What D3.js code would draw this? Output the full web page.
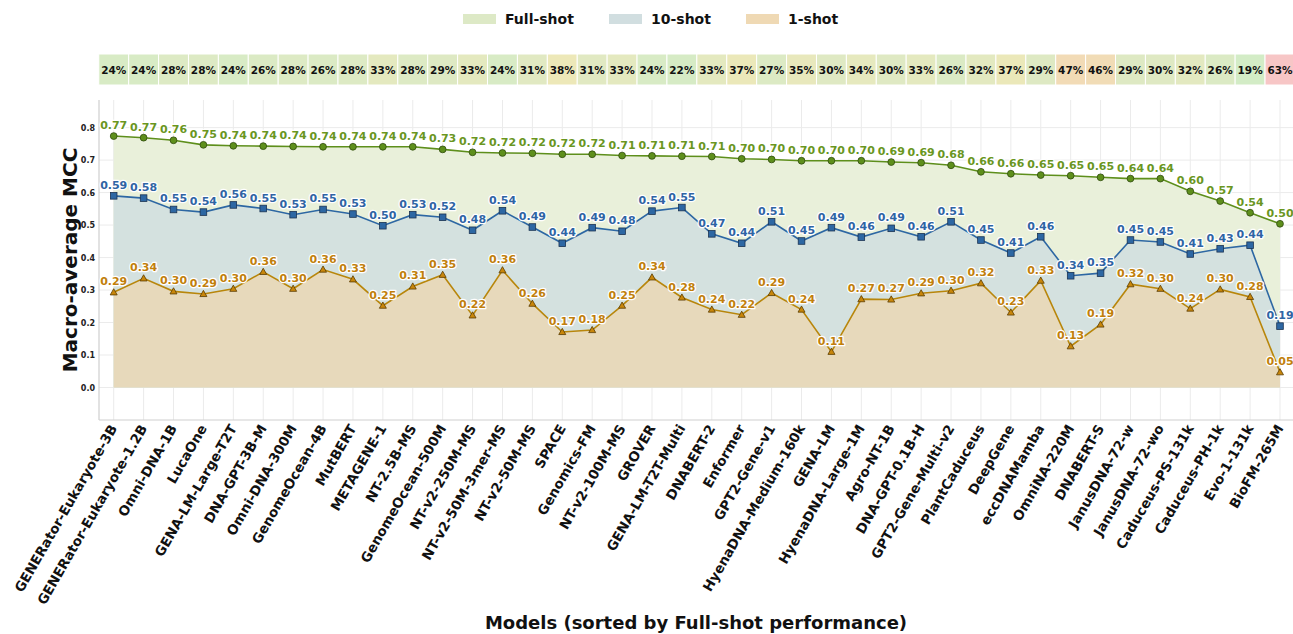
<!DOCTYPE html>
<html>
<head>
<meta charset="utf-8">
<script src="https://cdn.jsdelivr.net/npm/d3@7"></script>
<style>
  body { margin: 0; background: #fff; }
  svg { font-family: "DejaVu Sans", sans-serif; display: block; }
  .lbl { font-weight: bold; paint-order: stroke; stroke: #fff; stroke-width: 2.5px; stroke-linejoin: round; }
</style>
</head>
<body>
<svg width="1293" height="634"></svg>
<script>
// models, sorted by Full-shot performance
const models = ["GENERator-Eukaryote-3B", "GENERator-Eukaryote-1.2B", "Omni-DNA-1B", "LucaOne",
  "GENA-LM-Large-T2T", "DNA-GPT-3B-M", "Omni-DNA-300M", "GenomeOcean-4B", "MutBERT", "METAGENE-1",
  "NT-2.5B-MS", "GenomeOcean-500M", "NT-v2-250M-MS", "NT-v2-50M-3mer-MS", "NT-v2-50M-MS", "SPACE",
  "Genomics-FM", "NT-v2-100M-MS", "GROVER", "GENA-LM-T2T-Multi", "DNABERT-2", "Enformer",
  "GPT2-Gene-v1", "HyenaDNA-Medium-160k", "GENA-LM", "HyenaDNA-Large-1M", "Agro-NT-1B",
  "DNA-GPT-0.1B-H", "GPT2-Gene-Multi-v2", "PlantCaduceus", "DeepGene", "eccDNAMamba",
  "OmniNA-220M", "DNABERT-S", "JanusDNA-72-w", "JanusDNA-72-wo", "Caduceus-PS-131k",
  "Caduceus-PH-1k", "Evo-1-131k", "BioFM-265M"];

const fullShot = [0.774, 0.769, 0.761, 0.747, 0.744, 0.743, 0.742, 0.741, 0.741, 0.741,
  0.741, 0.733, 0.724, 0.722, 0.721, 0.718, 0.718, 0.714, 0.713, 0.712,
  0.711, 0.704, 0.702, 0.698, 0.698, 0.698, 0.694, 0.692, 0.684, 0.664,
  0.658, 0.654, 0.652, 0.647, 0.643, 0.643, 0.604, 0.574, 0.538, 0.504];

const tenShot = [0.590, 0.583, 0.548, 0.540, 0.562, 0.551, 0.532, 0.548, 0.534, 0.498,
  0.532, 0.524, 0.484, 0.544, 0.494, 0.444, 0.492, 0.481, 0.543, 0.554,
  0.473, 0.444, 0.510, 0.451, 0.492, 0.463, 0.490, 0.464, 0.510, 0.454,
  0.414, 0.464, 0.344, 0.352, 0.454, 0.448, 0.411, 0.427, 0.438, 0.189];

const oneShot = [0.293, 0.336, 0.296, 0.288, 0.304, 0.356, 0.304, 0.363, 0.333, 0.252,
  0.311, 0.347, 0.222, 0.361, 0.258, 0.171, 0.177, 0.252, 0.339, 0.277,
  0.240, 0.224, 0.291, 0.240, 0.110, 0.272, 0.271, 0.290, 0.298, 0.321,
  0.231, 0.329, 0.127, 0.194, 0.318, 0.304, 0.243, 0.302, 0.279, 0.047];

// percentages in the strip above the plot
const dropPct = [24, 24, 28, 28, 24, 26, 28, 26, 28, 33, 28, 29, 33, 24, 31, 38, 31, 33, 24, 22,
  33, 37, 27, 35, 30, 34, 30, 33, 26, 32, 37, 29, 47, 46, 29, 30, 32, 26, 19, 63];

const yTicks = [0.0, 0.1, 0.2, 0.3, 0.4, 0.5, 0.6, 0.7, 0.8];

const series = [
  {name: "Full-shot", values: fullShot, area: "#e9f0da", patch: "#dde9c6", line: "#5e8f1c", text: "#6a961f", mark: "circle", edge: "#2f4a0c"},
  {name: "10-shot", values: tenShot, area: "#d4e1df", patch: "#d1dee0", line: "#2d67a3", text: "#2f64a4", mark: "square", edge: "#1b3352"},
  {name: "1-shot", values: oneShot, area: "#e7d9bb", patch: "#efd9b4", line: "#b8860b", text: "#c17f0c", mark: "triangle", edge: "#5a3c00"}
];

const svg = d3.select("svg");
const plotLeft = 99, plotTop = 100, plotBottom = 420;

const x = d3.scalePoint().domain(models).range([113.7, 1280]);
const step = x.step();
const y = d3.scaleLinear().domain([-0.1, 0.885]).range([plotBottom, plotTop]);

// grid
const grid = svg.append("g");
grid.selectAll("line.v").data(models).join("line")
  .attr("x1", d => x(d)).attr("x2", d => x(d))
  .attr("y1", plotTop).attr("y2", plotBottom)
  .attr("stroke", "#ebebeb").attr("stroke-width", 1);
grid.selectAll("line.h").data(yTicks).join("line")
  .attr("x1", plotLeft).attr("x2", 1293)
  .attr("y1", d => y(d)).attr("y2", d => y(d))
  .attr("stroke", "#ebebeb").attr("stroke-width", 1);

// filled areas, full-shot first so the lower ones sit on top
series.forEach(s => {
  const area = d3.area()
    .x((d, i) => x(models[i]))
    .y0(y(0))
    .y1(d => y(d));
  svg.append("path")
    .datum(s.values)
    .attr("d", area)
    .attr("fill", s.area);
});

// spines
svg.append("line").attr("x1", plotLeft).attr("x2", plotLeft).attr("y1", plotTop).attr("y2", plotBottom)
  .attr("stroke", "#cfcfcf").attr("stroke-width", 1.2);
svg.append("line").attr("x1", plotLeft).attr("x2", 1293).attr("y1", plotBottom).attr("y2", plotBottom)
  .attr("stroke", "#cfcfcf").attr("stroke-width", 1.2);

// y ticks
svg.append("g").selectAll("text").data(yTicks).join("text")
  .attr("x", 95).attr("y", d => y(d) + 3)
  .attr("text-anchor", "end")
  .attr("font-size", 8).attr("font-weight", "bold").attr("fill", "#222")
  .text(d => d.toFixed(1));

// lines, markers and value labels
series.forEach(s => {
  const line = d3.line().x((d, i) => x(models[i])).y(d => y(d));
  svg.append("path")
    .datum(s.values)
    .attr("d", line)
    .attr("fill", "none")
    .attr("stroke", s.line)
    .attr("stroke-width", 1.6);

  const g = svg.append("g");
  s.values.forEach((v, i) => {
    const cx = x(models[i]), cy = y(v);
    if (s.mark === "circle") {
      g.append("circle").attr("cx", cx).attr("cy", cy).attr("r", 3.4)
        .attr("fill", s.line).attr("stroke", s.edge).attr("stroke-width", 0.8);
    } else if (s.mark === "square") {
      g.append("rect").attr("x", cx - 3.3).attr("y", cy - 3.3).attr("width", 6.6).attr("height", 6.6)
        .attr("fill", s.line).attr("stroke", s.edge).attr("stroke-width", 0.8);
    } else {
      g.append("path")
        .attr("d", `M${cx},${cy - 3.6}L${cx + 3.5},${cy + 2.6}L${cx - 3.5},${cy + 2.6}Z`)
        .attr("fill", "#c8860b").attr("stroke", s.edge).attr("stroke-width", 0.8);
    }
  });

  svg.append("g").selectAll("text").data(s.values).join("text")
    .attr("class", "lbl")
    .attr("x", (d, i) => x(models[i]))
    .attr("y", d => y(d) - 7)
    .attr("text-anchor", "middle")
    .attr("font-size", 11)
    .attr("fill", s.text)
    .text(d => d.toFixed(2));
});

// percentage strip
const pctColor = d3.scaleLinear()
  .domain([19, 30, 38, 47, 63])
  .range(["#d3ecc6", "#dfe9c3", "#ede8b8", "#f2dbb6", "#f7c6c6"]);
const strip = svg.append("g");
strip.selectAll("rect").data(dropPct).join("rect")
  .attr("x", (d, i) => x(models[i]) - step / 2)
  .attr("y", 54)
  .attr("width", step)
  .attr("height", 31)
  .attr("fill", d => pctColor(d))
  .attr("stroke", "#fff").attr("stroke-width", 1);
strip.selectAll("text").data(dropPct).join("text")
  .attr("x", (d, i) => x(models[i]))
  .attr("y", 73.5)
  .attr("text-anchor", "middle")
  .attr("font-size", 10.5).attr("font-weight", "bold").attr("fill", "#111")
  .text(d => d + "%");

// legend
const legendX = [463, 609, 746];
const legend = svg.append("g");
series.forEach((s, i) => {
  legend.append("rect").attr("x", legendX[i]).attr("y", 14).attr("width", 33).attr("height", 10)
    .attr("fill", s.patch);
  legend.append("text").attr("x", legendX[i] + 42).attr("y", 24)
    .attr("font-size", 14).attr("font-weight", "bold").attr("fill", "#111")
    .text(s.name);
});

// x tick labels
svg.append("g").selectAll("text").data(models).join("text")
  .attr("transform", d => `translate(${x(d) + 4},${plotBottom + 8}) rotate(-60)`)
  .attr("text-anchor", "end")
  .attr("font-size", 13.5).attr("font-weight", "bold").attr("fill", "#111")
  .text(d => d);

// axis titles
svg.append("text")
  .attr("x", (plotLeft + 1293) / 2).attr("y", 629)
  .attr("text-anchor", "middle")
  .attr("font-size", 18).attr("font-weight", "bold").attr("fill", "#111")
  .text("Models (sorted by Full-shot performance)");
svg.append("text")
  .attr("transform", `translate(77,${(plotTop + plotBottom) / 2}) rotate(-90)`)
  .attr("text-anchor", "middle")
  .attr("font-size", 20).attr("font-weight", "bold").attr("fill", "#111")
  .text("Macro-average MCC");
</script>
</body>
</html>
